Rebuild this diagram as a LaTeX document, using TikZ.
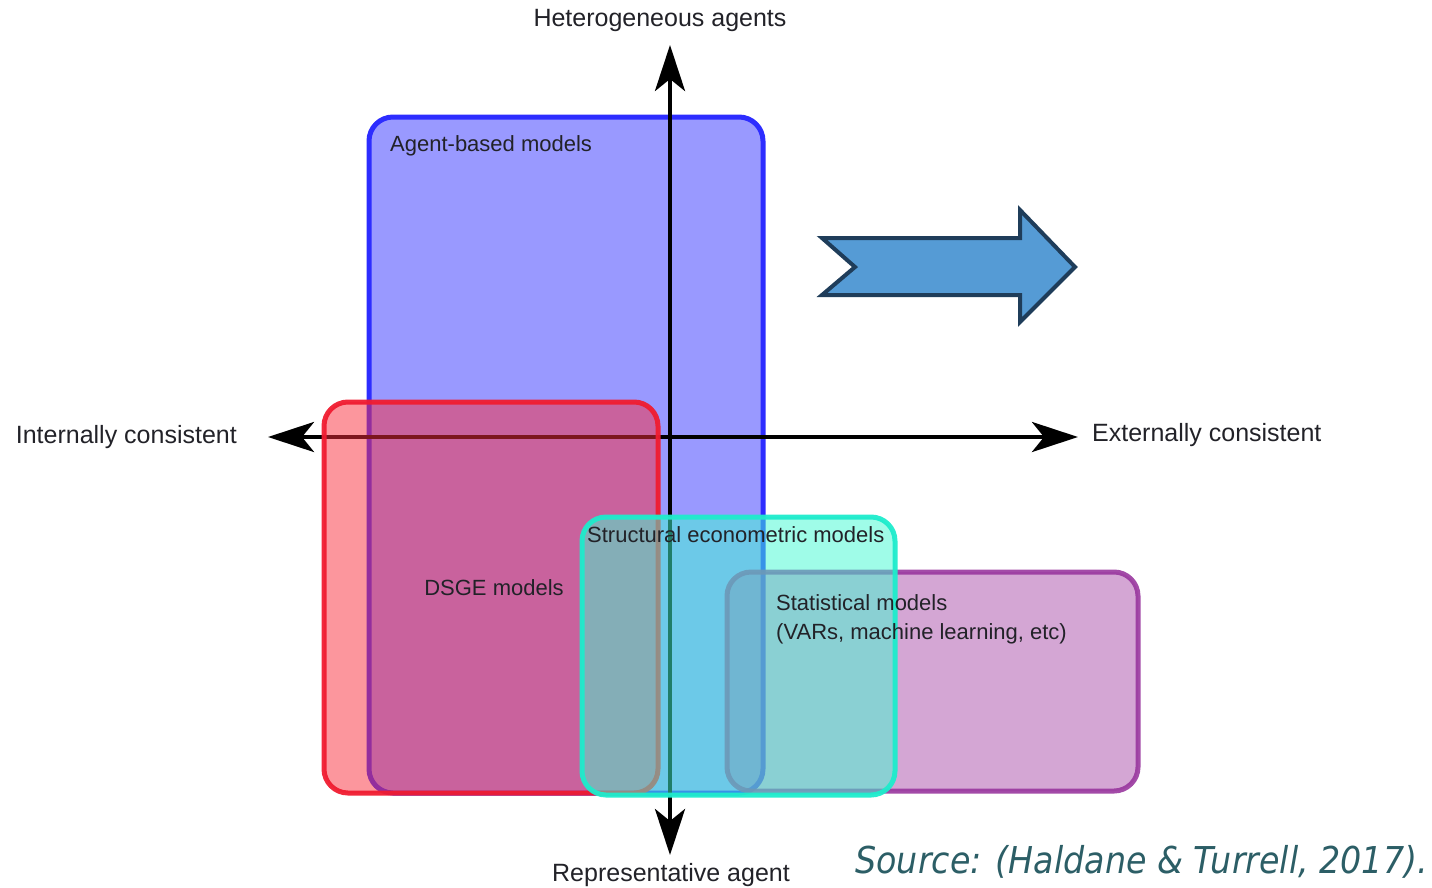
\documentclass[tikz,border=0pt]{standalone}
\usepackage{fontspec}
\setmainfont{Liberation Sans}
\newfontfamily\sourcefont[FakeStretch=0.9]{DejaVu Sans}
\usetikzlibrary{arrows.meta}

\definecolor{abmfill}{RGB}{153,153,255}
\definecolor{abmline}{RGB}{45,45,255}
\definecolor{dsgefill}{RGB}{250,45,60}
\definecolor{dsgeline}{RGB}{240,28,48}
\definecolor{semfill}{RGB}{64,250,210}
\definecolor{semline}{RGB}{30,236,204}
\definecolor{statfill}{RGB}{170,77,170}
\definecolor{statline}{RGB}{153,55,158}
\definecolor{shiftfill}{RGB}{85,155,213}
\definecolor{shiftline}{RGB}{31,61,90}
\definecolor{sourcetext}{RGB}{44,94,102}
\definecolor{labeltext}{RGB}{34,34,40}

\tikzstyle{region} = [draw,line width=5pt,rounded corners=24pt,inner sep=0pt]
\tikzstyle{abm region} = [region,draw=abmline,fill=abmfill]
\tikzstyle{dsge region} = [region,draw=dsgeline,fill=dsgefill,fill opacity=0.5,draw opacity=0.95]
\tikzstyle{sem region} = [region,draw=semline,fill=semfill,fill opacity=0.5,draw opacity=0.95]
\tikzstyle{stat region} = [region,draw=statline,fill=statfill,fill opacity=0.5,draw opacity=0.9]
\tikzstyle{axis} = [draw,line width=4.5pt,{Stealth[length=46pt,width=30pt,inset=12pt]}-{Stealth[length=46pt,width=30pt,inset=12pt]}]
\tikzstyle{axis text} = [font=\fontsize{25}{30}\selectfont,text=labeltext,inner sep=0pt]
\tikzstyle{model text} = [font=\fontsize{22}{29}\selectfont,text=labeltext,inner sep=0pt,align=left]
\tikzstyle{shift arrow} = [draw=shiftline,fill=shiftfill,line width=4pt,line join=miter]

\begin{document}
\begin{tikzpicture}[x=1pt,y=-1pt]
\useasboundingbox (0,0) rectangle (1432,887);

% agent-based models lie under the axes
\node[abm region,minimum width=394pt,minimum height=676pt] (ABM) at (566,455) {};

% axes
\coordinate (W) at (268,437);
\coordinate (E) at (1078,437);
\coordinate (N) at (670,45);
\coordinate (S) at (670,855);
\path[axis] (W) -- (E);
\path[axis] (N) -- (S);

% the other model classes
\node[dsge region,minimum width=334pt,minimum height=391pt] (DSGE) at (491,597.5) {};
\node[stat region,minimum width=411pt,minimum height=219pt] (STAT) at (932.5,681.5) {};
\node[sem region,minimum width=313pt,minimum height=278pt] (SEM) at (738.5,656) {};

% axis labels
\node[axis text,anchor=south] (hetero) at (660,32) {Heterogeneous agents};
\node[axis text,anchor=north] (repr) at (671,863) {Representative agent};
\node[axis text,anchor=east] (internal) at (237,437) {Internally consistent};
\node[axis text,anchor=west] (external) at (1092,435) {Externally consistent};

% model labels
\node[model text,anchor=west] (abmtext) at (390,146) {Agent-based models};
\node[model text] (dsgetext) at (494,588) {DSGE models};
\node[model text,anchor=west] (semtext) at (587,535) {Structural econometric models};
\node[model text,anchor=north west] (stattext) at (776,594) {Statistical models\\(VARs, machine learning, etc)};

% shift to the right
\draw[shift arrow] (822,238) -- (855,267) -- (822,295) -- (1020,295) -- (1020,322)
  -- (1075,267) -- (1020,210) -- (1020,238) -- cycle;

\node[font=\sourcefont\itshape\fontsize{37}{42}\selectfont,text=sourcetext,inner sep=0pt,anchor=east]
  (source) at (1428,862) {Source: (Haldane \& Turrell, 2017).};
\end{tikzpicture}
\end{document}
